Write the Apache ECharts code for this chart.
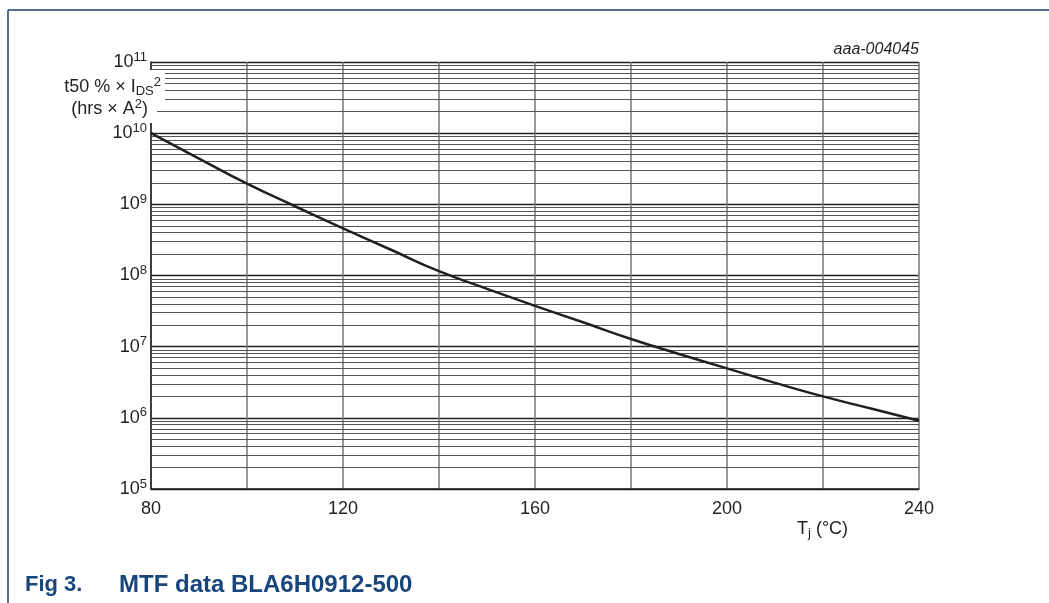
<!DOCTYPE html>
<html>
<head>
<meta charset="utf-8">
<script src="https://cdn.jsdelivr.net/npm/echarts@6/dist/echarts.min.js"></script>
<style>
  html, body { margin: 0; padding: 0; background: #fff; }
  #chart { width: 1049px; height: 603px; }
</style>
</head>
<body>
<div id="chart"></div>
<script>
// junction temperature (°C) and t50% x IDS^2 (hrs x A^2)
const tj = [80, 90, 100, 110, 120, 130, 140, 150, 160, 170, 180, 190, 200, 210, 220, 230, 240];
const mtf = [1.0e10, 4.4e9, 1.95e9, 9.4e8, 4.6e8, 2.3e8, 1.15e8, 6.5e7, 3.75e7, 2.2e7,
  1.28e7, 7.9e6, 4.95e6, 3.1e6, 2.0e6, 1.35e6, 9.1e5];
const xLabels = [80, 120, 160, 200, 240];
const decades = [5, 6, 7, 8, 9, 10];
const minorSteps = [2, 3, 4, 5, 6, 7, 8, 9];

const chart = echarts.init(document.getElementById("chart"));
const font = "'Liberation Sans', Arial, sans-serif";
const ink = "#231f20";
const navy = "#17457c";

// minor log grid lines (2..9 of each decade)
const minorLines = [];
decades.forEach((e) => {
  minorSteps.forEach((k) => minorLines.push({ yAxis: k * Math.pow(10, e) }));
});

const options = {
  animation: false,
  textStyle: { fontFamily: font },
  grid: { left: 151, right: 130, top: 62, bottom: 114 },
  xAxis: {
    type: "value",
    min: 80,
    max: 240,
    interval: 20,
    axisLine: { show: true, lineStyle: { color: ink, width: 1.5 } },
    axisTick: { show: false },
    splitLine: { show: true, lineStyle: { color: "#777", width: 1.5 } },
    axisLabel: {
      color: ink,
      fontSize: 18,
      margin: 11,
      formatter: (v) => (xLabels.includes(v) ? String(v) : ""),
    },
  },
  yAxis: {
    type: "log",
    logBase: 10,
    min: 1e5,
    max: 1e11,
    splitNumber: 6,
    axisLine: { show: true, lineStyle: { color: ink, width: 1.5 } },
    axisTick: { show: false },
    splitLine: { show: true, lineStyle: { color: ink, width: 1.3 } },
    axisLabel: {
      margin: 4,
      formatter: (v) => "{b|10}{s|" + Math.round(Math.log10(v)) + "}",
      rich: {
        b: { fontSize: 18, color: ink, fontFamily: font },
        s: { fontSize: 13, color: ink, fontFamily: font, padding: [0, 0, 10, 0] },
      },
    },
  },
  graphic: [
    { type: "line", shape: { x1: 8, y1: 10, x2: 1049, y2: 10 }, style: { stroke: "#1c3f6e", lineWidth: 1.5 } },
    { type: "line", shape: { x1: 8, y1: 10, x2: 8, y2: 603 }, style: { stroke: "#1c3f6e", lineWidth: 1.5 } },
    {
      type: "text", x: 919, y: 50, z: 10,
      style: { text: "aaa-004045", font: "italic 16px " + font, fill: ink, align: "right", verticalAlign: "middle" },
    },
    {
      type: "text", x: 165, y: 85, z: 10,
      style: {
        text: "{n|t50 % × I}{sub|DS}{sup|2}",
        align: "right",
        verticalAlign: "middle",
        backgroundColor: "#fff",
        padding: [6, 4, 1, 2],
        rich: {
          n: { fontSize: 18, fill: ink, fontFamily: font },
          sub: { fontSize: 13, fill: ink, fontFamily: font, padding: [7, 0, 0, 0] },
          sup: { fontSize: 13, fill: ink, fontFamily: font, padding: [0, 0, 10, 0] },
        },
      },
    },
    {
      type: "text", x: 157, y: 110, z: 10,
      style: {
        text: "{n|(hrs × A}{sup|2}{n|)}",
        align: "right",
        verticalAlign: "middle",
        backgroundColor: "#fff",
        padding: [1, 9, 2, 2],
        rich: {
          n: { fontSize: 18, fill: ink, fontFamily: font },
          sup: { fontSize: 13, fill: ink, fontFamily: font, padding: [0, 0, 10, 0] },
        },
      },
    },
    {
      type: "text", x: 797, y: 529, z: 10,
      style: {
        text: "{n|T}{sub|j}{n| (°C)}",
        verticalAlign: "middle",
        rich: {
          n: { fontSize: 18, fill: ink, fontFamily: font },
          sub: { fontSize: 13, fill: ink, fontFamily: font, padding: [9, 0, 0, 0] },
        },
      },
    },
    {
      type: "text", x: 25, y: 585, z: 10,
      style: { text: "Fig 3.", font: "bold 22px " + font, fill: navy, verticalAlign: "middle" },
    },
    {
      type: "text", x: 119, y: 585, z: 10,
      style: { text: "MTF data BLA6H0912-500", font: "bold 24px " + font, fill: navy, verticalAlign: "middle" },
    },
  ],
  series: [
    {
      name: "minor grid",
      type: "line",
      data: [],
      z: 1,
      silent: true,
      markLine: {
        silent: true,
        symbol: ["none", "none"],
        label: { show: false },
        lineStyle: { type: "solid", color: "#555", width: 1.2 },
        data: minorLines,
      },
    },
    {
      name: "MTF",
      type: "line",
      z: 5,
      smooth: true,
      showSymbol: false,
      lineStyle: { color: ink, width: 2.5 },
      data: tj.map((t, i) => [t, mtf[i]]),
    },
  ],
};

chart.setOption(options);
</script>
</body>
</html>
